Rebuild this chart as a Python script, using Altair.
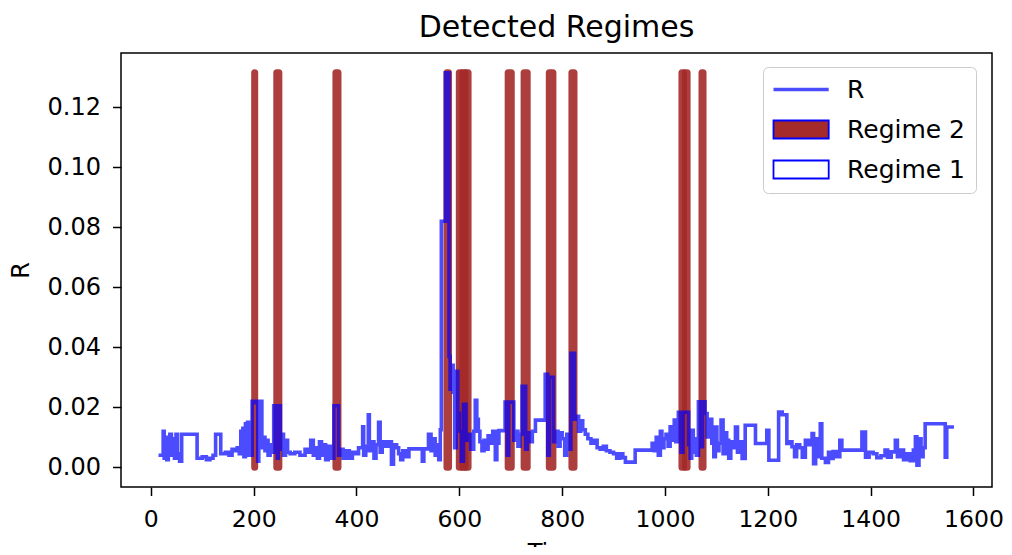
import altair as alt
import pandas as pd

# ---- data ----
time_vals = [15, 24, 26, 29, 31, 34, 37, 40, 43, 46, 49, 52, 56, 60, 90, 100, 108, 115, 121, 126,
             136, 145, 152, 158, 163, 168, 172, 175, 177, 179, 181, 184, 186, 188, 190, 192, 195, 197, 204, 208,
             210, 216, 219, 222, 225, 228, 232, 236, 239, 246, 248, 252, 255, 258, 262, 266, 271, 280, 290, 300,
             306, 311, 316, 320, 324, 328, 332, 336, 340, 345, 350, 356, 365, 369, 374, 380, 386, 392, 398, 404,
             412, 414, 418, 423, 425, 430, 434, 438, 443, 446, 450, 456, 462, 468, 472, 478, 482, 486, 490, 495,
             502, 528, 531, 540, 545, 549, 553, 557, 560, 563, 565, 573, 580, 582, 585, 588, 591, 594, 597, 600,
             604, 608, 613, 618, 622, 628, 631, 634, 637, 640, 644, 648, 652, 656, 660, 665, 670, 673, 677,
             689, 693, 696, 706, 710, 714, 718, 722, 729, 732, 737, 742, 748, 767, 772, 775, 783, 787, 792, 796,
             800, 805, 809, 813, 817, 824, 828, 832, 836, 840, 845, 850, 856, 862, 868, 874, 880, 886, 893, 900,
             906, 912, 918, 923, 942, 975, 979, 983, 987, 991, 994, 998, 1002, 1006, 1010, 1014, 1018, 1021, 1026, 1031,
             1035, 1046, 1049, 1052, 1055, 1058, 1061, 1065, 1070, 1073, 1078, 1082, 1086, 1091, 1095, 1098, 1101, 1105, 1109, 1113,
             1117, 1120, 1124, 1128, 1133, 1137, 1141, 1146, 1150, 1156, 1176, 1198, 1202, 1221, 1228, 1237, 1242, 1247, 1252, 1256,
             1262, 1267, 1273, 1280, 1286, 1289, 1293, 1297, 1302, 1305, 1312, 1318, 1322, 1327, 1333, 1340, 1344, 1383, 1390, 1397,
             1405, 1412, 1420, 1428, 1433, 1440, 1448, 1452, 1458, 1464, 1470, 1477, 1483, 1487, 1490, 1494, 1498, 1502, 1506, 1545,
             1548, 1562]

r_vals = [0.004, 0.012, 0.003, 0.010, 0.0025, 0.006, 0.011, 0.004, 0.0095, 0.003, 0.011, 0.0045, 0.002, 0.011, 0.003, 0.0035, 0.0025, 0.003, 0.004, 0.011,
          0.0045, 0.005, 0.004, 0.006, 0.0055, 0.0065, 0.0045, 0.012, 0.005, 0.013, 0.0035, 0.0145, 0.004, 0.015, 0.007, 0.0135, 0.004, 0.022, 0.0215, 0.002,
          0.022, 0.0065, 0.010, 0.0055, 0.009, 0.004, 0.0075, 0.005, 0.0205, 0.003, 0.0205, 0.006, 0.011, 0.004, 0.009, 0.005, 0.0045, 0.005, 0.004, 0.006,
          0.005, 0.009, 0.004, 0.0065, 0.003, 0.0085, 0.004, 0.0075, 0.0025, 0.007, 0.003, 0.0205, 0.004, 0.006, 0.003, 0.0055, 0.003, 0.005, 0.0045, 0.0065,
          0.0135, 0.004, 0.007, 0.0175, 0.0055, 0.0085, 0.003, 0.0075, 0.015, 0.005, 0.0085, 0.007, 0.0085, 0.001, 0.0075, 0.0065, 0.0045, 0.0025, 0.0055, 0.0035,
          0.0061, 0.002, 0.0061, 0.011, 0.0055, 0.0095, 0.004, 0.0075, 0.0025, 0.0125, 0.082, 0.1315, 0.037, 0.026, 0.034, 0.025, 0.0065, 0.032, 0.018, 0.012,
          0.002, 0.021, 0.009, 0.011, 0.006, 0.012, 0.0223, 0.016, 0.012, 0.0085, 0.0055, 0.009, 0.006, 0.0105, 0.008, 0.012, 0.0025, 0.008, 0.0122,
          0.0217, 0.004, 0.0217, 0.009, 0.012, 0.007, 0.011, 0.027, 0.006, 0.0115, 0.0085, 0.012, 0.0157, 0.031, 0.004, 0.030, 0.0085, 0.012, 0.007, 0.0115,
          0.0095, 0.004, 0.011, 0.006, 0.038, 0.016, 0.017, 0.012, 0.0155, 0.0125, 0.011, 0.0095, 0.008, 0.009, 0.0065, 0.006, 0.007, 0.0055, 0.005, 0.0045,
          0.003, 0.0045, 0.0032, 0.0017, 0.0057, 0.008, 0.0055, 0.010, 0.004, 0.012, 0.0065, 0.0095, 0.011, 0.007, 0.0135, 0.009, 0.0157, 0.0085, 0.0183, 0.005,
          0.0183, 0.0075, 0.003, 0.0123, 0.005, 0.0095, 0.004, 0.0218, 0.0068, 0.0218, 0.0179, 0.0101, 0.016, 0.008, 0.0035, 0.0134, 0.0055, 0.008, 0.0157, 0.0045,
          0.0115, 0.009, 0.003, 0.0085, 0.0065, 0.0134, 0.005, 0.0085, 0.0029, 0.014, 0.0079, 0.0123, 0.0023, 0.0184, 0.0175, 0.0079, 0.0085, 0.0068, 0.0035, 0.0075,
          0.0065, 0.0033, 0.009, 0.0075, 0.0112, 0.0012, 0.0095, 0.0035, 0.0145, 0.003, 0.0016, 0.005, 0.0029, 0.0052, 0.0035, 0.009, 0.0057, 0.0117, 0.0033, 0.005,
          0.0045, 0.0032, 0.0038, 0.0057, 0.0033, 0.0051, 0.009, 0.0035, 0.0057, 0.0025, 0.0045, 0.0022, 0.0057, 0.0101, 0.0007, 0.0095, 0.0035, 0.0065, 0.0145, 0.0033,
          0.0134, 0.0134]

regime2_start = [202, 245, 360, 576, 600, 607, 613, 695, 726, 775, 819, 1033, 1040, 1072]
regime2_end = [202, 249, 364, 579, 604, 611, 617, 701, 732, 782, 823, 1036, 1043, 1074]

legend_labels = ["R", "Regime 2", "Regime 1"]
x_ticks = [0, 200, 400, 600, 800, 1000, 1200, 1400, 1600]
y_ticks = [0.0, 0.02, 0.04, 0.06, 0.08, 0.10, 0.12]

band_top = max(r_vals)
line_df = pd.DataFrame({"Time": time_vals, "R": r_vals})
band_df = pd.DataFrame({"start": regime2_start, "end": regime2_end,
                        "low": [0.0] * len(regime2_start), "high": [band_top] * len(regime2_start)})
legend_df = pd.DataFrame({"series": legend_labels})

FONT = "DejaVu Sans"

x_scale = alt.Scale(domain=[-58, 1636], nice=False, zero=False)
y_scale = alt.Scale(domain=[-0.0066, 0.1381], nice=False, zero=False)

x_axis = alt.Axis(values=x_ticks, title="Time", grid=False, domain=False, format="d",
                  tickColor="black", tickSize=8.5, tickWidth=1.5,
                  labelFont=FONT, labelFontSize=23.5, labelColor="black", labelPadding=11.5, labelFlush=False,
                  titleFont=FONT, titleFontSize=24, titleFontWeight="normal", titleColor="black",
                  titleBaseline="alphabetic", titleY=73.5)
y_axis = alt.Axis(values=y_ticks, title="R", grid=False, domain=False, format=".2f",
                  tickColor="black", tickSize=8.5, tickWidth=1.5,
                  labelFont=FONT, labelFontSize=24, labelColor="black", labelPadding=12,
                  titleFont=FONT, titleFontSize=24, titleFontWeight="normal", titleColor="black",
                  titleBaseline="alphabetic", titleAlign="center", titleX=-93, titleY=217)

bands = alt.Chart(band_df).mark_rect(
    color="#a52a2a", stroke="#a52a2a", strokeWidth=7, strokeJoin="round", opacity=0.9
).encode(
    x=alt.X("start:Q", scale=x_scale, axis=x_axis),
    x2="end:Q",
    y=alt.Y("low:Q", scale=y_scale, axis=y_axis),
    y2="high:Q",
)

line = alt.Chart(line_df).mark_line(
    color="blue", opacity=0.7, strokeWidth=3.6, interpolate="step-after"
).encode(
    x=alt.X("Time:Q", scale=x_scale, axis=x_axis),
    y=alt.Y("R:Q", scale=y_scale, axis=y_axis),
)

leg = alt.Legend(title=None, orient="none", legendX=642, legendY=14, direction="vertical",
                 fillColor="rgba(255,255,255,0.8)", strokeColor="#cccccc", cornerRadius=5, padding=10,
                 labelFont=FONT, labelFontSize=25, labelColor="black", labelLimit=400,
                 labelOffset=33.4, symbolOffset=15.6, symbolSize=576, rowPadding=13,
                 symbolOpacity=1,
                 symbolStrokeWidth={"expr": "datum.value === 'R' ? 3.6 : 1.8"})

rect_path = "M-2.3,-0.75H2.3V0.75H-2.3Z"
line_path = "M-2.3,0H2.3"

legend_layer = alt.Chart(legend_df).transform_filter("false").mark_point(filled=True).encode(
    fill=alt.Fill("series:N", scale=alt.Scale(domain=legend_labels,
                                              range=["transparent", "#a52a2a", "white"]), legend=leg),
    stroke=alt.Stroke("series:N", scale=alt.Scale(domain=legend_labels,
                                                  range=["rgba(0,0,255,0.7)", "blue", "blue"]), legend=leg),
    shape=alt.Shape("series:N", scale=alt.Scale(domain=legend_labels,
                                                range=[line_path, rect_path, rect_path]), legend=leg),
)

chart = alt.layer(bands, line, legend_layer).properties(
    width=871, height=434,
    padding={"left": 113, "top": 45, "right": 12, "bottom": 60},
    autosize=alt.AutoSizeParams(type="none"),
    title=alt.TitleParams("Detected Regimes", font=FONT, fontSize=30, fontWeight="normal",
                          color="black", anchor="middle", offset=10),
    background="white",
).configure_view(stroke="black", strokeWidth=1.5)

chart.save("out.html", embed_options={"renderer": "svg", "actions": False})
